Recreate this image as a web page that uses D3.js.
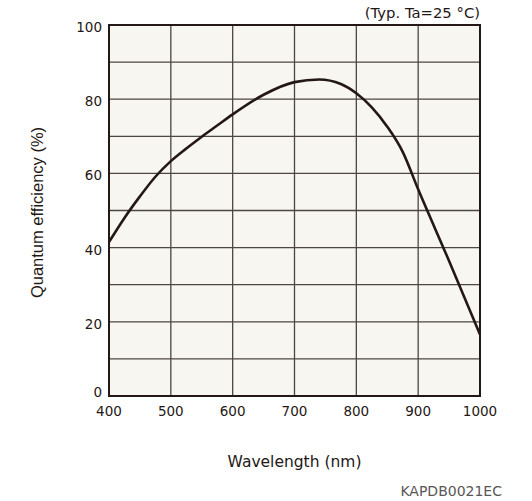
<!DOCTYPE html>
<html>
<head>
<meta charset="utf-8">
<script src="https://cdn.jsdelivr.net/npm/d3@7"></script>
<style>
  html, body { margin: 0; padding: 0; background: #ffffff; }
  svg { display: block; }
  .tk { font-family: "DejaVu Sans", sans-serif; font-size: 13.5px; font-weight: normal; fill: #231815; }
  .lb { font-family: "DejaVu Sans", sans-serif; fill: #231815; }
</style>
</head>
<body>
<svg id="chart" width="532" height="501"></svg>
<script>
// Data
const wavelength = [400, 425, 450, 475, 500, 525, 550, 575, 600, 650, 700, 740, 775, 800, 825, 850, 875, 900, 950, 1000];
const efficiency = [41.5, 48.0, 53.8, 59.1, 63.3, 66.7, 69.9, 72.9, 75.9, 81.2, 84.6, 85.3, 84.1, 81.6, 77.8, 72.6, 65.8, 55.7, 36.4, 16.6];
const xTicks = [400, 500, 600, 700, 800, 900, 1000];
const yTicks = [0, 20, 40, 60, 80, 100];
const yGrid = [10, 20, 30, 40, 50, 60, 70, 80, 90];
const xLabel = "Wavelength (nm)";
const yLabel = "Quantum efficiency (%)";
const noteText = "(Typ. Ta=25 °C)";
const codeText = "KAPDB0021EC";

const svg = d3.select("#chart");
const m = { left: 109, right: 480, top: 25, bottom: 396 };

const x = d3.scaleLinear().domain([400, 1000]).range([m.left, m.right]);
const y = d3.scaleLinear().domain([0, 100]).range([m.bottom, m.top]);

// plot background
svg.append("rect")
  .attr("x", x(400)).attr("y", y(100))
  .attr("width", x(1000) - x(400)).attr("height", y(0) - y(100))
  .attr("fill", "#f7f6f0");

// grid
const g = svg.append("g").attr("stroke", "#4e4644").attr("stroke-width", 1.3);
g.selectAll("line.v").data(xTicks.slice(1, -1)).join("line")
  .attr("x1", d => x(d)).attr("x2", d => x(d))
  .attr("y1", y(0)).attr("y2", y(100));
g.selectAll("line.h").data(yGrid).join("line")
  .attr("x1", x(400)).attr("x2", x(1000))
  .attr("y1", d => y(d)).attr("y2", d => y(d));

// curve
const line = d3.line()
  .x((d, i) => x(wavelength[i]))
  .y(d => y(d))
  .curve(d3.curveMonotoneX);
svg.append("path")
  .datum(efficiency)
  .attr("d", line)
  .attr("fill", "none")
  .attr("stroke", "#231815")
  .attr("stroke-width", 2.6)
  .attr("stroke-linejoin", "round");

// frame
svg.append("rect")
  .attr("x", x(400)).attr("y", y(100))
  .attr("width", x(1000) - x(400)).attr("height", y(0) - y(100))
  .attr("fill", "none")
  .attr("stroke", "#231815").attr("stroke-width", 2);

// x tick labels
svg.append("g").selectAll("text").data(xTicks).join("text")
  .attr("class", "tk")
  .attr("x", d => x(d))
  .attr("y", y(0) + 20)
  .attr("text-anchor", "middle")
  .text(d => d);

// y tick labels
svg.append("g").selectAll("text").data(yTicks).join("text")
  .attr("class", "tk")
  .attr("x", x(400) - 7)
  .attr("y", d => y(d) + (d === 0 ? 1 : 7))
  .attr("text-anchor", "end")
  .text(d => d);

// axis titles
svg.append("text")
  .attr("class", "lb")
  .attr("font-size", 15.5)
  .attr("x", (x(400) + x(1000)) / 2)
  .attr("y", 467)
  .attr("text-anchor", "middle")
  .text(xLabel);

svg.append("text")
  .attr("transform", `translate(43, ${(y(0) + y(100)) / 2 + 2}) rotate(-90)`)
  .attr("text-anchor", "middle")
  .attr("font-family", "'Liberation Sans', Arial, sans-serif")
  .attr("font-size", 16.5)
  .attr("fill", "#231815")
  .text(yLabel);

// note top right
svg.append("text")
  .attr("class", "lb")
  .attr("font-size", 14.8)
  .attr("x", x(1000))
  .attr("y", 18)
  .attr("text-anchor", "end")
  .text(noteText);

// code bottom right
svg.append("text")
  .attr("x", 502)
  .attr("y", 496)
  .attr("text-anchor", "end")
  .attr("font-family", "'DejaVu Sans', sans-serif")
  .attr("font-size", 14)
  .attr("fill", "#595757")
  .text(codeText);
</script>
</body>
</html>
